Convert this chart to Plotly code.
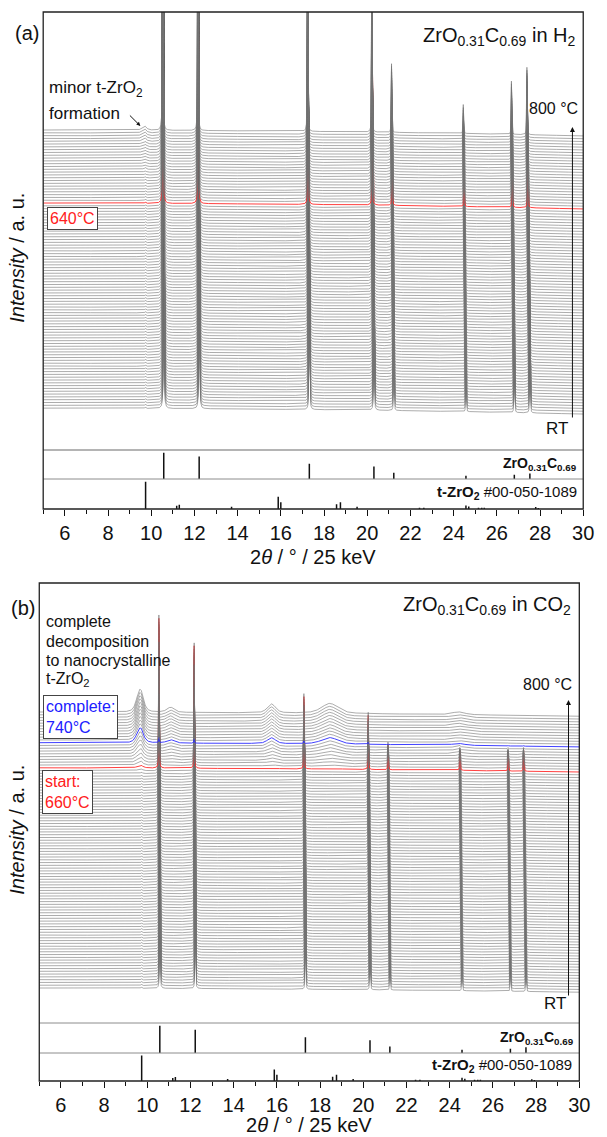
import numpy as np
import plotly.graph_objects as go

W, H = 607, 1137
FONT = "Arial, 'Liberation Sans', Helvetica, sans-serif"

# ---------------- data ----------------
x_min, x_max = 5, 30

# ZrO0.31C0.69 reflections (RT positions, deg 2theta) and reference stick heights (%)
zroc_pos = [10.58, 12.22, 17.32, 20.31, 21.23, 24.57, 26.81, 27.53]
zroc_stick = [100, 85, 58, 47, 24, 12, 16, 21]
zroc_fwhm = [0.032, 0.032, 0.035, 0.035, 0.035, 0.038, 0.038, 0.038]

# t-ZrO2 #00-050-1089 reference sticks
tzro2_pos = [9.74, 11.18, 11.30, 13.72, 15.88, 16.00, 18.58, 18.76, 19.53,
             22.42, 22.62, 24.57, 24.70, 25.15, 25.30, 25.42, 27.80, 27.92]
tzro2_stick = [100, 12, 16, 8, 45, 25, 17, 25, 8, 5, 5, 13, 9, 5, 5, 5, 7, 4]

# waterfall: number of scans RT -> 800 °C, highlighted scans
n_scans = 100
red_idx_h2 = 73     # 640 °C
red_idx_co2 = 79    # start: 660 °C
blue_idx_co2 = 88   # complete: 740 °C

# ZrOC peak heights in the waterfall (units of scan offset)
amp_h2 = [146, 119, 70, 53, 24.5, 10.3, 19, 24]
amp_co2 = [54, 44, 26, 19.5, 9, 7, 7, 7.5]

# ZrOC phase fraction per scan
zroc_scale_h2 = [1.0] * 100
zroc_scale_co2 = [1.0] * 81 + [0.8, 0.6, 0.42, 0.28, 0.18, 0.1, 0.06, 0.035, 0.02, 0.01] + [0.0] * 9

# nanocrystalline t-ZrO2 growth per scan
tzro2_growth_h2 = [0.0] * 80 + [0.05, 0.1, 0.15, 0.2, 0.25, 0.3, 0.35, 0.4, 0.45, 0.5,
                                0.55, 0.6, 0.65, 0.7, 0.75, 0.8, 0.85, 0.9, 0.95, 1.0]
tzro2_growth_co2 = [0.0] * 77 + [0.03, 0.06, 0.10, 0.15, 0.20, 0.27, 0.34, 0.41, 0.48, 0.54,
                                 0.60, 0.65, 0.70, 0.74, 0.78, 0.82, 0.85, 0.88, 0.91, 0.94,
                                 0.96, 0.98, 1.0]

# broad t-ZrO2 reflections
broad_pos_h2 = [9.68]
broad_fwhm_h2 = [0.3]
broad_amp_h2 = [1.1]
broad_pos_co2 = [9.66, 11.08, 15.75, 18.45, 24.4]
broad_fwhm_co2 = [0.36, 0.4, 0.45, 0.9, 0.7]
broad_amp_co2 = [8.2, 1.8, 3.2, 3.6, 1.0]

# faint reflection present in all scans
trace_pos, trace_fwhm, trace_amp = 9.73, 0.05, 0.4

# background drift
bg_x = [5, 10, 15, 20, 25, 30]
bg_h2 = [0, -0.1, -0.35, -0.7, -1.3, -2.1]
bg_co2 = [0, -0.1, -0.3, -0.6, -1.0, -1.5]

expansion_max = 0.005  # relative peak shift RT -> 800 °C

# ---------------- curves ----------------
base = np.arange(x_min, x_max + 1e-9, 0.025)
fine = [np.arange(p * (1 - 0.006) - 0.3, p + 0.3, 0.004) for p in zroc_pos]
xg = np.unique(np.round(np.concatenate([base] + fine), 4))
xg = xg[(xg >= x_min) & (xg <= x_max)]


def pv(x, p, w, eta=0.35):
    d = (x - p) / w
    return eta / (1 + 4 * d * d) + (1 - eta) * np.exp(-4 * np.log(2) * d * d)


def waterfall(amp, zscale, bpos, bfwhm, bamp, growth, bg):
    idx = np.arange(n_scans)[:, None].astype(float)
    X = xg[None, :]
    Y = idx + np.interp(xg, bg_x, bg)[None, :]
    shift = 1 - expansion_max * idx / (n_scans - 1)
    zs = np.array(zscale, float)[:, None]
    for p, a, w in zip(zroc_pos, amp, zroc_fwhm):
        Y = Y + a * zs * pv(X, p * shift, w)
    g = np.array(growth, float)[:, None]
    for p, w, a in zip(bpos, bfwhm, bamp):
        Y = Y + a * g * pv(X, p, w, eta=0.5)
    Y = Y + trace_amp * pv(X, trace_pos, trace_fwhm)
    return Y


def stack(Y, lo, hi):
    xs, ys = [], []
    for i in range(lo, hi):
        xs += [xg, [np.nan]]
        ys += [Y[i], [np.nan]]
    return np.concatenate(xs).astype(np.float32), np.concatenate(ys).astype(np.float32)


Ya = waterfall(amp_h2, zroc_scale_h2, broad_pos_h2, broad_fwhm_h2, broad_amp_h2, tzro2_growth_h2, bg_h2)
Yb = waterfall(amp_co2, zroc_scale_co2, broad_pos_co2, broad_fwhm_co2, broad_amp_co2, tzro2_growth_co2, bg_co2)

GREY = '#747474'
LW = 0.6
RED = '#ff2a2a'
BLUE = '#2a2aff'
fig = go.Figure()


def grey(Y, lo, hi, xa, ya):
    gx, gy = stack(Y, lo, hi)
    fig.add_trace(go.Scatter(x=gx, y=gy, mode='lines', line=dict(color=GREY, width=LW),
                             xaxis=xa, yaxis=ya, hoverinfo='skip', connectgaps=False))


def single(Y, i, color, xa, ya):
    fig.add_trace(go.Scatter(x=xg, y=Y[i], mode='lines', line=dict(color=color, width=0.9),
                             xaxis=xa, yaxis=ya, hoverinfo='skip'))


# panel (a): draw RT first, later scans on top
grey(Ya, 0, red_idx_h2, 'x', 'y')
single(Ya, red_idx_h2, RED, 'x', 'y')
grey(Ya, red_idx_h2 + 1, n_scans, 'x', 'y')

# panel (b)
grey(Yb, 0, red_idx_co2, 'x2', 'y4')
single(Yb, red_idx_co2, RED, 'x2', 'y4')
grey(Yb, red_idx_co2 + 1, blue_idx_co2, 'x2', 'y4')
single(Yb, blue_idx_co2, BLUE, 'x2', 'y4')
grey(Yb, blue_idx_co2 + 1, n_scans, 'x2', 'y4')


def sticks(pos, hts, xaxis, yaxis):
    xs, ys = [], []
    for p, h in zip(pos, hts):
        xs += [p, p, None]
        ys += [0, h, None]
    return go.Scatter(x=xs, y=ys, mode='lines', line=dict(color='#111', width=1.5),
                      xaxis=xaxis, yaxis=yaxis, hoverinfo='skip')


fig.add_trace(sticks(zroc_pos, zroc_stick, 'x', 'y2'))
fig.add_trace(sticks(tzro2_pos, tzro2_stick, 'x', 'y3'))
fig.add_trace(sticks(zroc_pos, zroc_stick, 'x2', 'y5'))
fig.add_trace(sticks(tzro2_pos, tzro2_stick, 'x2', 'y6'))


# ---------------- layout ----------------
def px(x):
    return x / W


def py(y):
    return 1 - y / H


def xaxis_def(l, r, anchor):
    return dict(domain=[px(l), px(r)], range=[x_min, x_max], anchor=anchor,
                showline=False, showgrid=False, zeroline=False,
                tick0=0, dtick=2, ticks='outside', ticklen=6, tickwidth=1.3, tickcolor='#111',
                minor=dict(ticks='outside', ticklen=3.5, tickwidth=1.2, tickcolor='#111', tick0=5, dtick=1),
                tickfont=dict(family=FONT, size=20, color='#111'))


def yaxis_def(top, bottom, rng, anchor):
    return dict(domain=[py(bottom), py(top)], range=rng, anchor=anchor, visible=False,
                showgrid=False, zeroline=False)


ann = []


def txt(x, y, s, size, xanchor='left', color='#111', **kw):
    ann.append(dict(x=px(x), y=py(y), xref='paper', yref='paper', text=s, showarrow=False,
                    xanchor=xanchor, yanchor='middle',
                    font=dict(family=FONT, size=size, color=color), **kw))


def arrow(xh, yh, xt, yt, size=1.0):
    ann.append(dict(x=px(xh), y=py(yh), xref='paper', yref='paper', ax=xt - xh, ay=yt - yh,
                    axref='pixel', ayref='pixel', text='', showarrow=True, arrowhead=2,
                    arrowsize=size, arrowwidth=1, arrowcolor='#111', standoff=0))


ZROC = 'ZrO<sub>0.31</sub>C<sub>0.69</sub>'

# panel (a)
txt(28, 33, '(a)', 20, 'center')
txt(589, 36, ZROC + ' in H<sub>2</sub>', 20, 'right')
txt(48, 89, 'minor t-ZrO<sub>2</sub>', 17)
txt(48, 114, 'formation', 17)
arrow(143, 126, 131, 114, 0.8)
txt(73.5, 218.5, '640°C', 16, 'center', color='#ff2020',
    bordercolor='#444', borderwidth=1, borderpad=2, bgcolor='white')
txt(591, 108, '800 °C', 16, 'right')
arrow(583, 127, 583, 419, 1.0)
txt(567, 428, 'RT', 17, 'center')
txt(590, 464, '<b>' + ZROC + '</b>', 14, 'right')
txt(590, 492, '<b>t-ZrO<sub>2</sub></b> #00-050-1089', 15, 'right')
txt(319, 557, '2<i>θ</i> / ° / 25 keV', 20, 'center')
txt(17, 258, '<i>Intensity</i> / a. u.', 20, 'center', textangle=-90)

# panel (b)
txt(23, 608, '(b)', 20, 'center')
txt(584, 605, ZROC + ' in CO<sub>2</sub>', 20, 'right')
txt(45, 621, 'complete', 16)
txt(45, 641, 'decomposition', 16)
txt(45, 660, 'to nanocrystalline', 16)
txt(45, 679, 't-ZrO<sub>2</sub>', 16)
ann.append(dict(x=px(44), y=py(717), xref='paper', yref='paper', text='complete:<br>740°C',
                showarrow=False, xanchor='left', yanchor='middle', align='left',
                font=dict(family=FONT, size=16, color='#2020ff'),
                bordercolor='#444', borderwidth=1, borderpad=2, bgcolor='white'))
ann.append(dict(x=px(43), y=py(792), xref='paper', yref='paper', text='start:<br>660°C',
                showarrow=False, xanchor='left', yanchor='middle', align='left',
                font=dict(family=FONT, size=16, color='#ff2020'),
                bordercolor='#444', borderwidth=1, borderpad=2, bgcolor='white'))
txt(585, 685, '800 °C', 16, 'right')
arrow(579, 700, 579, 997, 1.0)
txt(565, 1003, 'RT', 17, 'center')
txt(587, 1038, '<b>' + ZROC + '</b>', 14, 'right')
txt(585, 1065, '<b>t-ZrO<sub>2</sub></b> #00-050-1089', 15, 'right')
txt(315, 1125, '2<i>θ</i> / ° / 25 keV', 20, 'center')
txt(17, 830, '<i>Intensity</i> / a. u.', 20, 'center', textangle=-90)

shapes = []


def line(x0, y0, x1, y1, color, width):
    shapes.append(dict(type='line', xref='paper', yref='paper', x0=px(x0), y0=py(y0),
                       x1=px(x1), y1=py(y1), line=dict(color=color, width=width)))


def rect(x0, y0, x1, y1):
    shapes.append(dict(type='rect', xref='paper', yref='paper', x0=px(x0), y0=py(y0),
                       x1=px(x1), y1=py(y1), line=dict(color='#222', width=1.3)))


line(44, 450, 594, 450, '#b4b4b4', 2)
line(44, 479, 594, 479, '#8c8c8c', 1)
rect(44, 12, 594, 509)
line(40, 1023, 590, 1023, '#8c8c8c', 1)
line(40, 1053, 590, 1053, '#8c8c8c', 1)
rect(40, 583, 590, 1081)

fig.update_layout(
    width=W, height=H, autosize=False,
    margin=dict(l=0, r=0, t=0, b=0),
    paper_bgcolor='white', plot_bgcolor='rgba(0,0,0,0)',
    showlegend=False,
    font=dict(family=FONT, color='#111'),
    xaxis=xaxis_def(44, 594, 'y3'),
    yaxis=yaxis_def(12, 450, [-14.9, 141.0], 'x'),
    yaxis2=yaxis_def(450, 479, [0, 110], 'x'),
    yaxis3=yaxis_def(479, 509, [0, 110], 'x'),
    xaxis2=xaxis_def(40, 590, 'y6'),
    yaxis4=yaxis_def(583, 1023, [-12.55, 145.3], 'x2'),
    yaxis5=yaxis_def(1023, 1053, [0, 110], 'x2'),
    yaxis6=yaxis_def(1053, 1081, [0, 110], 'x2'),
    annotations=ann,
    shapes=shapes,
)

fig.write_html("out.html")
